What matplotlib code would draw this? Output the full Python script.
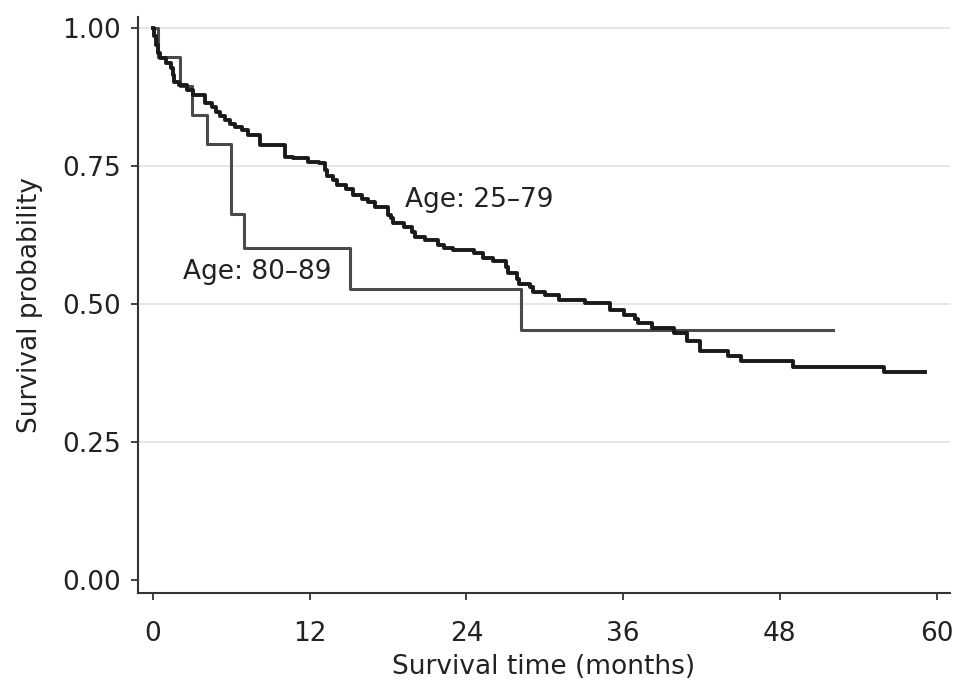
import matplotlib
matplotlib.use('Agg')
import matplotlib.pyplot as plt

# Kaplan-Meier estimates (time in months, survival after the step)
t_young = [0, 0.1, 0.2, 0.35, 0.5, 1.0, 1.4, 1.5, 1.6, 2.0, 2.6, 3.1, 4.0, 4.5, 4.8,
           5.1, 5.5, 5.9, 6.3, 6.8, 7.3, 8.2, 10.1, 10.7, 11.9, 12.7, 13.2, 13.3,
           13.8, 14.1, 14.8, 15.3, 16.0, 16.5, 17.0, 18.0, 18.2, 18.4, 19.2, 19.8,
           20.1, 20.8, 21.8, 22.3, 23.0, 24.6, 25.3, 26.0, 27.0, 27.2, 27.9, 28.0,
           28.9, 29.1, 30.0, 31.1, 33.1, 35.0, 36.1, 36.9, 37.1, 38.2, 39.9, 40.9,
           41.9, 44.0, 45.0, 49.0, 56.0, 59.1]
s_young = [1.0, 0.985, 0.970, 0.955, 0.945, 0.936, 0.928, 0.915, 0.903, 0.897, 0.888,
           0.879, 0.864, 0.857, 0.848, 0.840, 0.833, 0.827, 0.821, 0.815, 0.806, 0.788,
           0.767, 0.764, 0.758, 0.755, 0.743, 0.731, 0.725, 0.716, 0.709, 0.697, 0.691,
           0.685, 0.676, 0.661, 0.655, 0.646, 0.640, 0.631, 0.622, 0.616, 0.607, 0.601,
           0.598, 0.592, 0.583, 0.577, 0.567, 0.556, 0.546, 0.537, 0.530, 0.522, 0.516,
           0.507, 0.501, 0.489, 0.480, 0.473, 0.466, 0.456, 0.447, 0.432, 0.414, 0.405,
           0.396, 0.385, 0.376, 0.376]

t_old = [0, 0.4, 2.1, 3.0, 4.1, 6.0, 7.0, 15.1, 28.2, 52.1]
s_old = [1.0, 0.947, 0.895, 0.842, 0.789, 0.663, 0.602, 0.527, 0.452, 0.452]

xticks = [0, 12, 24, 36, 48, 60]
yticks = [0.0, 0.25, 0.5, 0.75, 1.0]
ytick_labels = ['0.00', '0.25', '0.50', '0.75', '1.00']

fs = 19

fig = plt.figure(figsize=(9.69, 6.98), dpi=100)
ax = fig.add_axes([0.1424, 0.1504, 0.8376, 0.8252])

for y in yticks[1:]:
    ax.axhline(y, color='#e4e4e4', lw=1.3, zorder=0)

ax.step(t_old, s_old, where='post', color='#4a4a4a', lw=2.2, zorder=2)
ax.step(t_young, s_young, where='post', color='#1a1a1a', lw=2.8, zorder=3)

ax.text(19.3, 0.688, 'Age: 25\u201379', fontsize=fs, color='#222222', va='center')
ax.text(2.3, 0.558, 'Age: 80\u201389', fontsize=fs, color='#222222', va='center')

ax.set_xlim(-1.15, 61)
ax.set_ylim(-0.024, 1.02)
ax.set_xticks(xticks)
ax.set_yticks(yticks)
ax.set_yticklabels(ytick_labels)
ax.tick_params(axis='both', labelsize=fs, colors='#333333', labelcolor='#222222',
               length=5, width=1.3)
ax.tick_params(axis='x', pad=15)
ax.tick_params(axis='y', pad=7)

for side in ['top', 'right']:
    ax.spines[side].set_visible(False)
for side in ['left', 'bottom']:
    ax.spines[side].set_color('#333333')
    ax.spines[side].set_linewidth(1.5)

ax.set_xlabel('Survival time (months)', fontsize=fs, color='#222222', labelpad=5)
ax.set_ylabel('Survival probability', fontsize=fs, color='#222222', labelpad=14)

fig.savefig('out.png', dpi=100)
